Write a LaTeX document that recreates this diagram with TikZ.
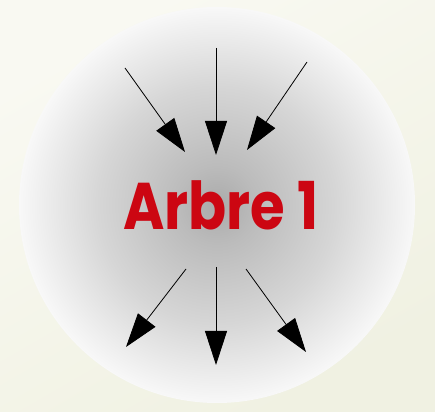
\documentclass[tikz,border=0pt]{standalone}
\usepackage{xcolor}
\usepackage{fontspec}
\newfontfamily\arbrefont{Poppins}
\usetikzlibrary{arrows.meta,positioning}
\definecolor{FondHaut}{HTML}{F9F9F2}
\definecolor{FondBas}{HTML}{F0F1E2}
\definecolor{BouleCentre}{HTML}{AAAAAA}
\definecolor{BouleMilieu}{HTML}{D6D6D6}
\definecolor{BouleBord}{HTML}{F8F8F8}
\definecolor{ArbreRouge}{HTML}{CC0612}
\pgfdeclareradialshading{boule}{\pgfpoint{0bp}{0bp}}{color(0bp)=(BouleCentre); color(5bp)=(BouleCentre!60!BouleMilieu); color(15bp)=(BouleMilieu); color(25bp)=(BouleBord); color(50bp)=(BouleBord)}

\begin{document}
\begin{tikzpicture}[
	x=1pt, y=1pt,
	fond/.style={top color=FondHaut, bottom color=FondBas, shading angle=30},
	arbrebox/.style={circle, minimum size=396pt, inner sep=0pt, shading=boule},
	arbretext/.style={text=ArbreRouge, font=\arbrefont\bfseries\fontsize{66}{66}\selectfont, xscale=0.85, transform shape},
	fleche/.style={-{Triangle[length=34pt, width=22pt]}, line width=0.8pt}
]
\shade[fond] (0,0) rectangle (435,411);
\useasboundingbox (0,0) rectangle (435,411);
\node[arbrebox] (boule) at (217,206) {};
\node[arbretext] (arbre) at (221,206) {Arbre 1};

\coordinate (in1) at (125,343);
\coordinate (in2) at (216,363);
\coordinate (in3) at (307,349);
\coordinate (cin1) at (185,259);
\coordinate (cin2) at (216,256);
\coordinate (cin3) at (247,261);
\coordinate (cout1) at (186,142);
\coordinate (cout2) at (216,144);
\coordinate (cout3) at (246,142);
\coordinate (out1) at (126,64);
\coordinate (out2) at (216,46);
\coordinate (out3) at (306,59);

\foreach \i in {1,2,3} {
	\draw[fleche] (in\i) -- (cin\i);
	\draw[fleche] (cout\i) -- (out\i);
}
\end{tikzpicture}
\end{document}
